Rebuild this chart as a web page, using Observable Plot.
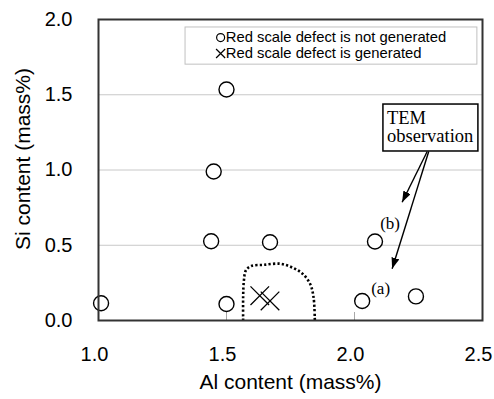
<!DOCTYPE html>
<html>
<head>
<meta charset="utf-8">
<script src="https://cdn.jsdelivr.net/npm/d3@7"></script>
<script src="https://cdn.jsdelivr.net/npm/@observablehq/plot@0.6"></script>
<style>
  html, body { margin: 0; padding: 0; background: #fff; }
</style>
</head>
<body>
<div id="chart"></div>
<script>
// ---- data ----
const circleAl = [1.01, 1.50, 1.45, 1.44, 1.50, 1.67, 2.08, 2.03, 2.24];
const circleSi = [0.115, 1.535, 0.99, 0.527, 0.11, 0.52, 0.525, 0.13, 0.16];
const crossAl = [1.63, 1.67];
const crossSi = [0.165, 0.13];
const boundaryAl = [1.565, 1.565, 1.568, 1.576, 1.597, 1.646, 1.711, 1.757, 1.796, 1.826, 1.840, 1.845];
const boundarySi = [0, 0.155, 0.266, 0.334, 0.362, 0.370, 0.377, 0.352, 0.312, 0.246, 0.155, 0];
const xTicks = [1.0, 1.5, 2.0, 2.5];
const yTicks = [0.0, 0.5, 1.0, 1.5, 2.0];
const yGrid = [0.5, 1.0, 1.5];
const xTitle = "Al content (mass%)";
const yTitle = "Si content (mass%)";
const legendLabels = ["Red scale defect is not generated", "Red scale defect is generated"];
// annotation anchors (data coordinates)
const legendBoxAl = [1.34, 2.48];
const legendBoxSi = [1.70, 1.947];
const legendSymbolAl = 1.477;
const legendTextAl = 1.497;
const legendRowSi = [1.88, 1.774];
const temBoxAl = [2.113, 2.484];
const temBoxSi = [1.123, 1.435];
const temTextAl = 2.127;
const temTextSi = 1.185;
const temText = "TEM\nobservation";
const arrowFromAl = [2.284, 2.290];
const arrowFromSi = [1.123, 1.123];
const arrowToAl = [2.186, 2.147];
const arrowToSi = [0.786, 0.344];
const caseLabels = ["(b)", "(a)"];
const caseLabelAl = [2.139, 2.102];
const caseLabelSi = [0.645, 0.213];

// ---- derived tables ----
const circles = circleAl.map((a, i) => ({al: a, si: circleSi[i]}));
const crosses = crossAl.map((a, i) => ({al: a, si: crossSi[i]}));
const boundary = boundaryAl.map((a, i) => ({al: a, si: boundarySi[i]}));
const arrows = arrowToAl.map((a, i) => ({x1: arrowFromAl[i], y1: arrowFromSi[i], x2: a, y2: arrowToSi[i]}));
const cases = caseLabels.map((t, i) => ({t, al: caseLabelAl[i], si: caseLabelSi[i]}));

function filledHead(color) {
  const m = d3.create("svg:marker")
    .attr("viewBox", "-11 -4 11 8")
    .attr("markerWidth", 11)
    .attr("markerHeight", 8)
    .attr("markerUnits", "userSpaceOnUse")
    .attr("refX", 0).attr("refY", 0)
    .attr("orient", "auto")
    .attr("fill", color).attr("stroke", "none");
  m.append("path").attr("d", "M-11,-4L0,0L-11,4Z");
  return m.node();
}

const serif = "'Liberation Serif', 'Times New Roman', serif";

const chart = Plot.plot({
  width: 494,
  height: 399,
  marginLeft: 98,
  marginRight: 12,
  marginTop: 19,
  marginBottom: 79,
  x: {domain: [1, 2.5], label: null},
  y: {domain: [0, 2], label: null},
  style: {fontFamily: "'Liberation Sans', Arial, sans-serif", background: "#fff", color: "#000"},
  marks: [
    Plot.ruleY(yGrid, {stroke: "#c8c8c8", strokeWidth: 1}),
    Plot.ruleX(xTicks, {y1: 0, y2: 0, insetTop: -8, stroke: "#a8a8a8", strokeWidth: 1}),
    Plot.axisX({ticks: xTicks, tickSize: 0, tickPadding: 26, dx: -4, fontSize: 20, tickFormat: d => d.toFixed(1), label: null}),
    Plot.axisY({ticks: yTicks, tickSize: 0, tickPadding: 26, fontSize: 20, tickFormat: d => d.toFixed(1), label: null}),
    // legend
    Plot.rect([0], {x1: legendBoxAl[0], x2: legendBoxAl[1], y1: legendBoxSi[0], y2: legendBoxSi[1], fill: "#fff", stroke: "#c0c0c0", strokeWidth: 1}),
    Plot.dot([0], {x: legendSymbolAl, y: legendRowSi[0], r: 4, symbol: "circle", fill: "#fff", stroke: "#000", strokeWidth: 1.2}),
    Plot.dot([0], {x: legendSymbolAl, y: legendRowSi[1], r: 4.2, symbol: "times", stroke: "#000", strokeWidth: 1.2}),
    Plot.text(legendLabels, {x: legendTextAl, y: (d, i) => legendRowSi[i], text: d => d, textAnchor: "start", fontSize: 14.8}),
    // dotted boundary
    Plot.line(boundary, {x: "al", y: "si", curve: "catmull-rom", stroke: "#000", strokeWidth: 2.6, strokeDasharray: "2.2,2.2", strokeLinecap: "butt", strokeLinejoin: "miter"}),
    // data
    Plot.dot(circles, {x: "al", y: "si", r: 7.5, symbol: "circle", fill: "#fff", stroke: "#000", strokeWidth: 1.4}),
    Plot.dot(crosses, {x: "al", y: "si", r: 8.5, symbol: "times", stroke: "#000", strokeWidth: 1.3}),
    // TEM annotation
    Plot.rect([0], {x1: temBoxAl[0], x2: temBoxAl[1], y1: temBoxSi[0], y2: temBoxSi[1], fill: "#fff", stroke: "#000", strokeWidth: 1.5}),
    Plot.text([temText], {x: temTextAl, y: temTextSi, text: d => d, textAnchor: "start", lineAnchor: "bottom", lineHeight: 1.0, fontSize: 18.5, fontFamily: serif}),
    Plot.link(arrows, {x1: "x1", y1: "y1", x2: "x2", y2: "y2", stroke: "#000", strokeWidth: 1.4, markerEnd: filledHead}),
    Plot.text(cases, {x: "al", y: "si", text: "t", fontSize: 17, fontFamily: serif, lineAnchor: "middle"}),
    // titles
    Plot.text([xTitle], {frameAnchor: "bottom", dy: 62, text: d => d, fontSize: 21, lineAnchor: "middle", textAnchor: "middle"}),
    Plot.text([yTitle], {frameAnchor: "left", dx: -75, dy: -11, rotate: -90, text: d => d, fontSize: 21, lineAnchor: "middle", textAnchor: "middle"}),
    Plot.frame({stroke: "#333", strokeWidth: 2})
  ]
});
document.getElementById("chart").appendChild(chart);
</script>
</body>
</html>
